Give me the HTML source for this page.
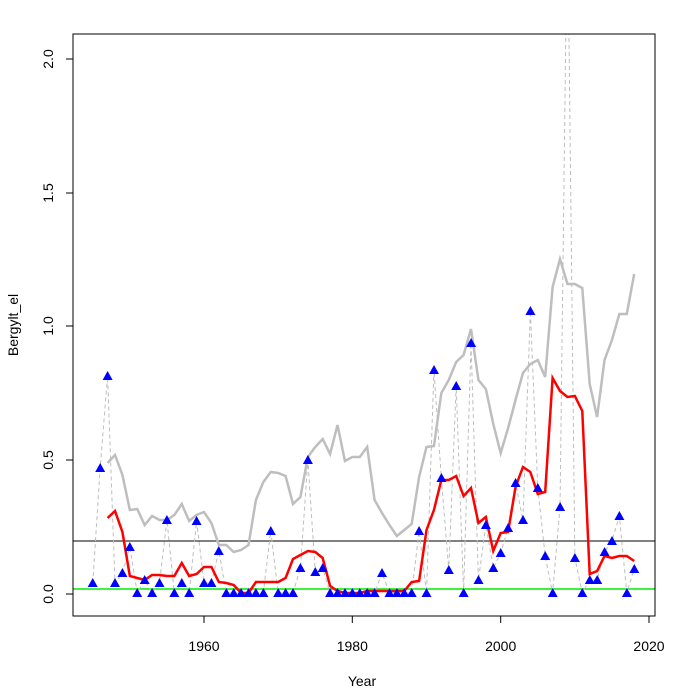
<!DOCTYPE html>
<html><head><meta charset="utf-8"><style>body{margin:0;background:#fff}svg{display:block}text{font-family:"Liberation Sans",Arial,sans-serif;font-size:14px;fill:#000}</style></head>
<body>
<svg width="689" height="688" xmlns="http://www.w3.org/2000/svg">
<defs><clipPath id="c"><rect x="73" y="34" width="582" height="582"/></clipPath>
<polygon id="t" points="0,-5 5,4 -5,4" fill="#0000ff"/></defs>
<g clip-path="url(#c)">
<line x1="73" y1="589" x2="655" y2="589" stroke="#00ee00" stroke-width="1.5"/>
<line x1="73" y1="541" x2="655" y2="541" stroke="#000" stroke-width="1"/>
<g transform="translate(92.75,0) scale(7.417,1)" fill="none">
<polyline vector-effect="non-scaling-stroke" stroke="#bebebe" stroke-width="1" stroke-dasharray="4,3" points="0,583 1,468 2,376 3,583 4,573 5,547 6,593 7,580 8,593 9,583 10,520 11,593 12,583 13,593 14,521 15,583 16,583 17,551 18,593 19,593 20,593 21,593 22,593 23,593 24,531 25,593 26,593 27,593 28,568 29,460 30,572 31,568 32,593 33,593 34,593 35,593 36,593 37,593 38,593 39,573 40,593 41,593 42,593 43,593 44,531 45,593 46,370 47,478 48,570 49,386 50,593 51,343 52,580 53,525 54,568 55,553 56,528 57,483 58,520 59,311 60,488 61,556 62,593 63,507 64,-100 65,558 66,593 67,580 68,580 69,552 70,541 71,516 72,593 73,569"/>
<polyline vector-effect="non-scaling-stroke" stroke="#bebebe" stroke-width="2.5" points="2,463 3,455 4,475 5,510 6,509 7,525 8,516 9,520 10,520 11,515 12,504 13,521 14,515 15,512 16,523 17,545 18,545 19,552 20,550 21,545 22,500 23,482 24,472 25,473 26,476 27,504 28,497 29,457 30,447 31,439 32,454 33,425 34,461 35,457 36,457 37,447 38,500 39,513 40,525 41,536 42,530 43,524 44,477 45,447 46,446 47,393 48,380 49,362 50,355 51,329 52,380 53,389 54,424 55,453 56,428 57,400 58,373 59,364 60,360 61,377 62,287 63,259 64,284 65,284 66,288 67,384 68,417 69,360 70,340 71,314 72,314 73,274"/>
<polyline vector-effect="non-scaling-stroke" stroke="#ff0000" stroke-width="2.5" points="2,518 3,511 4,532 5,576 6,578 7,580 8,575 9,575 10,576 11,576 12,563 13,576 14,574 15,567 16,567 17,582 18,583 19,585 20,593 21,593 22,582 23,582 24,582 25,582 26,578 27,559 28,555 29,551 30,552 31,558 32,586 33,591 34,593 35,593 36,593 37,591 38,591 39,591 40,591 41,591 42,591 43,582 44,581 45,530 46,510 47,480 48,480 49,476 50,496 51,488 52,523 53,517 54,551 55,533 56,532 57,487 58,467 59,472 60,494 61,492 62,378 63,391 64,397 65,396 66,411 67,574 68,571 69,556 70,558 71,556 72,556 73,561"/>
</g>
<use href="#t" x="92.7" y="583"/><use href="#t" x="100.2" y="468"/><use href="#t" x="107.6" y="376"/><use href="#t" x="115" y="583"/><use href="#t" x="122.4" y="573"/><use href="#t" x="129.8" y="547"/><use href="#t" x="137.2" y="593"/><use href="#t" x="144.7" y="580"/><use href="#t" x="152.1" y="593"/><use href="#t" x="159.5" y="583"/><use href="#t" x="166.9" y="520"/><use href="#t" x="174.3" y="593"/><use href="#t" x="181.8" y="583"/><use href="#t" x="189.2" y="593"/><use href="#t" x="196.6" y="521"/><use href="#t" x="204" y="583"/><use href="#t" x="211.4" y="583"/><use href="#t" x="218.8" y="551"/><use href="#t" x="226.3" y="593"/><use href="#t" x="233.7" y="593"/><use href="#t" x="241.1" y="593"/><use href="#t" x="248.5" y="593"/><use href="#t" x="255.9" y="593"/><use href="#t" x="263.4" y="593"/><use href="#t" x="270.8" y="531"/><use href="#t" x="278.2" y="593"/><use href="#t" x="285.6" y="593"/><use href="#t" x="293" y="593"/><use href="#t" x="300.4" y="568"/><use href="#t" x="307.9" y="460"/><use href="#t" x="315.3" y="572"/><use href="#t" x="322.7" y="568"/><use href="#t" x="330.1" y="593"/><use href="#t" x="337.5" y="593"/><use href="#t" x="345" y="593"/><use href="#t" x="352.4" y="593"/><use href="#t" x="359.8" y="593"/><use href="#t" x="367.2" y="593"/><use href="#t" x="374.6" y="593"/><use href="#t" x="382" y="573"/><use href="#t" x="389.5" y="593"/><use href="#t" x="396.9" y="593"/><use href="#t" x="404.3" y="593"/><use href="#t" x="411.7" y="593"/><use href="#t" x="419.1" y="531"/><use href="#t" x="426.5" y="593"/><use href="#t" x="434" y="370"/><use href="#t" x="441.4" y="478"/><use href="#t" x="448.8" y="570"/><use href="#t" x="456.2" y="386"/><use href="#t" x="463.6" y="593"/><use href="#t" x="471.1" y="343"/><use href="#t" x="478.5" y="580"/><use href="#t" x="485.9" y="525"/><use href="#t" x="493.3" y="568"/><use href="#t" x="500.7" y="553"/><use href="#t" x="508.1" y="528"/><use href="#t" x="515.6" y="483"/><use href="#t" x="523" y="520"/><use href="#t" x="530.4" y="311"/><use href="#t" x="537.8" y="488"/><use href="#t" x="545.2" y="556"/><use href="#t" x="552.7" y="593"/><use href="#t" x="560.1" y="507"/><use href="#t" x="574.9" y="558"/><use href="#t" x="582.3" y="593"/><use href="#t" x="589.8" y="580"/><use href="#t" x="597.2" y="580"/><use href="#t" x="604.6" y="552"/><use href="#t" x="612" y="541"/><use href="#t" x="619.4" y="516"/><use href="#t" x="626.9" y="593"/><use href="#t" x="634.3" y="569"/>
</g>
<rect x="73" y="34" width="582" height="582" fill="none" stroke="#000" stroke-width="1"/>
<g stroke="#000" stroke-width="1">
<line x1="204" y1="616" x2="649" y2="616"/>
<line x1="204" y1="616" x2="204" y2="623"/><line x1="352.3" y1="616" x2="352.3" y2="623"/><line x1="500.7" y1="616" x2="500.7" y2="623"/><line x1="649" y1="616" x2="649" y2="623"/>
<line x1="73" y1="59" x2="73" y2="594"/>
<line x1="66" y1="594" x2="73" y2="594"/><line x1="66" y1="460" x2="73" y2="460"/><line x1="66" y1="326" x2="73" y2="326"/><line x1="66" y1="193" x2="73" y2="193"/><line x1="66" y1="59" x2="73" y2="59"/>
</g>
<g text-anchor="middle">
<text x="204" y="651">1960</text><text x="352.3" y="651">1980</text><text x="500.7" y="651">2000</text><text x="649" y="651">2020</text>
<text x="362" y="686">Year</text>
<text transform="translate(53,594) rotate(-90)">0.0</text>
<text transform="translate(53,460) rotate(-90)">0.5</text>
<text transform="translate(53,326) rotate(-90)">1.0</text>
<text transform="translate(53,193) rotate(-90)">1.5</text>
<text transform="translate(53,59) rotate(-90)">2.0</text>
<text transform="translate(18,325) rotate(-90)">Bergylt_el</text>
</g>
</svg>
</body></html>
